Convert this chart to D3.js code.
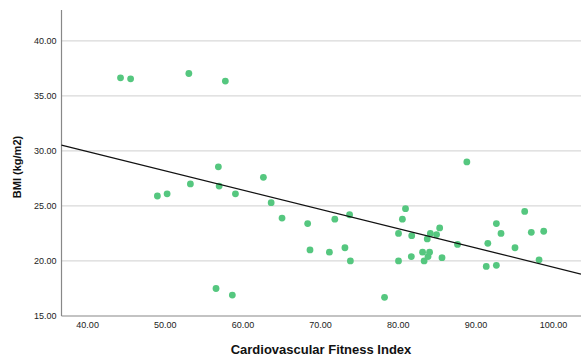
<!DOCTYPE html>
<html>
<head>
<meta charset="utf-8">
<script src="https://cdn.jsdelivr.net/npm/d3@7"></script>
<style>
  body { margin: 0; background: #fff; }
  svg { display: block; font-family: "Liberation Sans", Arial, sans-serif; }
</style>
</head>
<body>
<svg width="581" height="358"></svg>
<script>
// cardiovascular fitness index (x) vs BMI (y)
const fitness = [44.3, 45.6, 53.1, 57.8, 56.9, 62.7, 49.05, 50.3, 53.3, 57.0, 59.1, 63.7, 65.1, 68.4,
  68.7, 71.2, 71.9, 73.2, 73.8, 73.9, 56.6, 58.7, 78.3, 80.1, 80.1, 81.0, 80.6, 81.8, 81.75,
  83.2, 83.4, 83.8, 83.9, 84.1, 84.2, 85.0, 85.4, 85.7, 87.7, 88.9, 91.4, 91.6, 92.7, 92.7,
  93.3, 95.1, 96.35, 97.2, 98.2, 98.8];
const bmi = [36.64, 36.55, 37.03, 36.34, 28.55, 27.6, 25.9, 26.1, 27.0, 26.8, 26.1, 25.3, 23.9, 23.4,
  21.0, 20.8, 23.8, 21.2, 24.2, 20.0, 17.5, 16.9, 16.7, 22.5, 20.0, 24.75, 23.8, 22.3, 20.4,
  20.8, 20.0, 22.0, 20.4, 20.8, 22.5, 22.4, 23.0, 20.3, 21.5, 29.0, 19.5, 21.6, 19.6, 23.4,
  22.5, 21.2, 24.5, 22.6, 20.1, 22.7];
const xTicks = [40, 50, 60, 70, 80, 90, 100];
const yTicks = [15, 20, 25, 30, 35, 40];
const fitLine = { intercept: 36.94, slope: -0.175 }; // linear fit drawn in the chart

const svg = d3.select('svg');
const width = +svg.attr('width');
const plotLeft = 61.5, plotBottom = 316, plotTop = 10;

const x = d3.scaleLinear().domain([36.7, 103.6]).range([plotLeft, width]);
const y = d3.scaleLinear().domain([15, 42.8]).range([plotBottom, plotTop]);

// horizontal grid
svg.append('g')
  .selectAll('line')
  .data(yTicks.slice(1))
  .enter()
  .append('line')
  .attr('x1', plotLeft)
  .attr('x2', width)
  .attr('y1', d => y(d))
  .attr('y2', d => y(d))
  .attr('stroke', '#d9d9d9')
  .attr('stroke-width', 1.2);

// y axis
const yAxis = svg.append('g')
  .attr('transform', `translate(${plotLeft},0)`)
  .call(d3.axisLeft(y).tickValues(yTicks).tickFormat(d3.format('.2f')).tickSize(0).tickPadding(5));
yAxis.select('.domain').remove();
yAxis.append('line')
  .attr('y1', plotTop).attr('y2', plotBottom)
  .attr('stroke', '#888').attr('stroke-width', 1.2);

// x axis
const xAxis = svg.append('g')
  .attr('transform', `translate(0,${plotBottom})`)
  .call(d3.axisBottom(x).tickValues(xTicks).tickFormat(d3.format('.2f')).tickSize(0).tickPadding(6));
xAxis.select('.domain').remove();
xAxis.append('line')
  .attr('x1', plotLeft).attr('x2', width)
  .attr('stroke', '#888').attr('stroke-width', 1.2);

svg.selectAll('.tick text')
  .attr('font-size', 9)
  .attr('font-family', '"Liberation Sans", Arial, sans-serif')
  .attr('fill', '#222');

// points
svg.append('g')
  .selectAll('circle')
  .data(fitness.map((f, i) => [f, bmi[i]]))
  .enter()
  .append('circle')
  .attr('cx', d => x(d[0]))
  .attr('cy', d => y(d[1]))
  .attr('r', 3.4)
  .attr('fill', '#55c77f');

// fit line
const xd = x.domain();
svg.append('line')
  .attr('x1', x(xd[0]))
  .attr('y1', y(fitLine.intercept + fitLine.slope * xd[0]))
  .attr('x2', x(xd[1]))
  .attr('y2', y(fitLine.intercept + fitLine.slope * xd[1]))
  .attr('stroke', '#111')
  .attr('stroke-width', 1.2);

// axis titles
svg.append('text')
  .attr('x', 321)
  .attr('y', 354)
  .attr('text-anchor', 'middle')
  .attr('font-size', 13)
  .attr('font-weight', 'bold')
  .attr('fill', '#111')
  .text('Cardiovascular Fitness Index');

svg.append('text')
  .attr('transform', 'translate(21,167) rotate(-90)')
  .attr('text-anchor', 'middle')
  .attr('font-size', 11)
  .attr('font-weight', 'bold')
  .attr('fill', '#111')
  .text('BMI (kg/m2)');
</script>
</body>
</html>
